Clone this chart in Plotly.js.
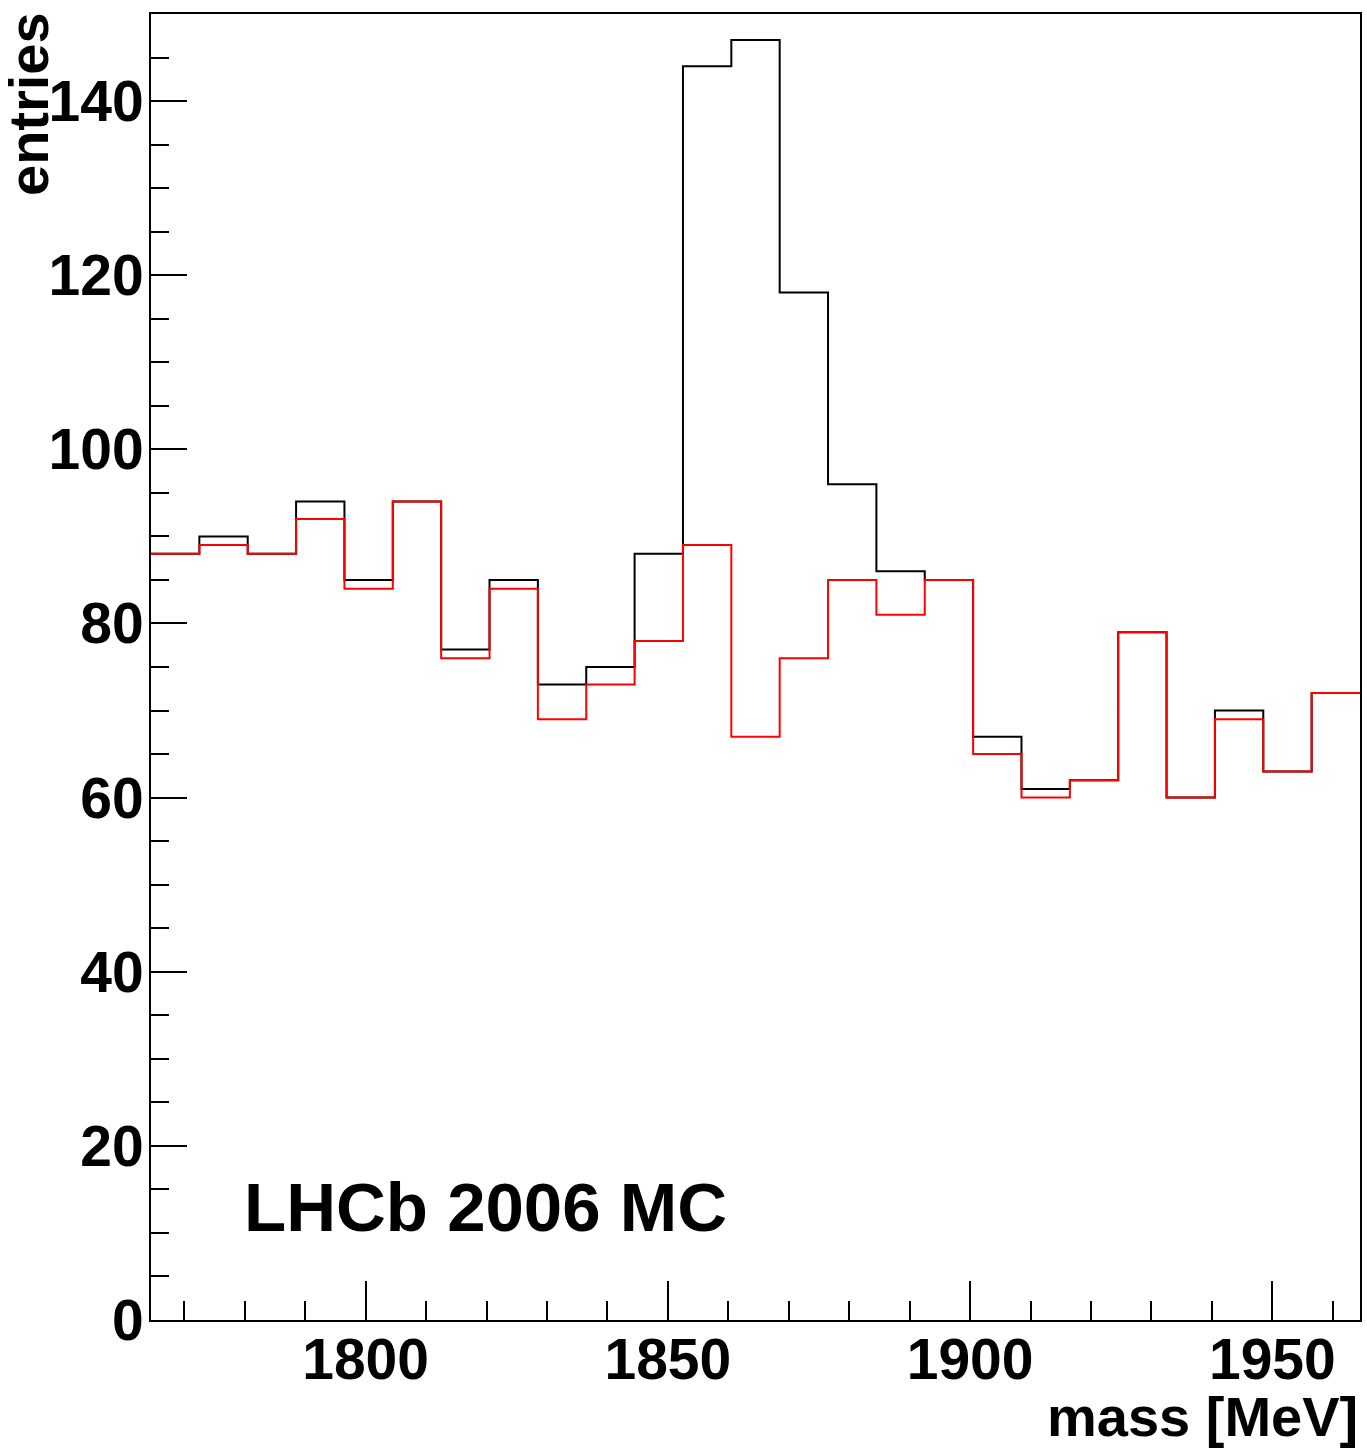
<!DOCTYPE html>
<html>
<head>
<meta charset="utf-8">
<script src="https://cdn.plot.ly/plotly-3.0.1.min.js"></script>
<style>
  html, body { margin: 0; padding: 0; background: #fff; }
  #chart { width: 1367px; height: 1454px; }
</style>
</head>
<body>
<div id="chart"></div>
<script>
// Histogram binning (D0 mass window)
const binLow = 1764.5;
const binWidth = 8;

// Bin contents: all candidates (black) and after selection (red)
const allEntries = [88, 90, 88, 94, 85, 94, 77, 85, 73, 75, 88, 144, 147, 118, 96, 86, 85, 67, 61, 62, 79, 60, 70, 63, 72];
const selEntries = [88, 89, 88, 92, 84, 94, 76, 84, 69, 73, 78, 89, 67, 76, 85, 81, 85, 65, 60, 62, 79, 60, 69, 63, 72];

// Axis ticks
const xTickVals = [1800, 1850, 1900, 1950];
const xTickText = ["1800", "1850", "1900", "1950"];
const yTickVals = [0, 20, 40, 60, 80, 100, 120, 140];
const yTickText = ["0", "20", "40", "60", "80", "100", "120", "140"];

const xTitle = "mass [MeV]";
const yTitle = "entries";
const label = "LHCb 2006 MC";

function stepTrace(values, color) {
  const x = [], y = [];
  for (let i = 0; i < values.length; i++) {
    x.push(binLow + i * binWidth);
    y.push(values[i]);
  }
  x.push(binLow + values.length * binWidth);
  y.push(values[values.length - 1]);
  return {
    x: x, y: y, type: 'scatter', mode: 'lines',
    line: { shape: 'hv', color: color, width: 2 },
    hoverinfo: 'skip', showlegend: false
  };
}

const FONT = '"Liberation Sans", Arial, Helvetica, sans-serif';

const data = [stepTrace(allEntries, '#000000'), stepTrace(selEntries, '#ff0000')];

const layout = {
  width: 1367, height: 1454,
  margin: { l: 151, r: 7, t: 14, b: 134, pad: 0 },
  paper_bgcolor: '#ffffff', plot_bgcolor: '#ffffff',
  showlegend: false,
  xaxis: {
    range: [binLow, binLow + 25 * binWidth],
    tickmode: 'array', tickvals: xTickVals, ticktext: xTickText,
    ticks: 'inside', ticklen: 39, tickwidth: 2, tickcolor: '#000',
    minor: { dtick: 10, tick0: 1770, ticks: 'inside', ticklen: 19, tickwidth: 2, tickcolor: '#000', showgrid: false },
    showline: true, linewidth: 2, linecolor: '#000', mirror: true,
    showgrid: false, zeroline: false,
    tickfont: { family: FONT, size: 57, color: '#000', weight: 'bold' },
    ticklabelstandoff: -11,
    fixedrange: true
  },
  yaxis: {
    range: [0, 150],
    tickmode: 'array', tickvals: yTickVals, ticktext: yTickText,
    ticks: 'inside', ticklen: 36, tickwidth: 2, tickcolor: '#000',
    minor: { dtick: 5, tick0: 0, ticks: 'inside', ticklen: 18, tickwidth: 2, tickcolor: '#000', showgrid: false },
    showline: true, linewidth: 2, linecolor: '#000', mirror: true,
    showgrid: false, zeroline: false,
    tickfont: { family: FONT, size: 57, color: '#000', weight: 'bold' },
    ticklabelstandoff: -6,
    fixedrange: true
  },
  annotations: [
    {
      text: xTitle, xref: 'paper', yref: 'paper', x: 1.0, y: -0.0482,
      xanchor: 'right', yanchor: 'top', showarrow: false,
      font: { family: FONT, size: 56, color: '#000', weight: 'bold' }
    },
    {
      text: yTitle, xref: 'paper', yref: 'paper', x: -0.1018, y: 1.003,
      xanchor: 'center', yanchor: 'top', textangle: -90, showarrow: false,
      font: { family: FONT, size: 56, color: '#000', weight: 'bold' }
    },
    {
      text: label, xref: 'paper', yref: 'paper', x: 0.075, y: 0.0862,
      xanchor: 'left', yanchor: 'middle', showarrow: false,
      font: { family: FONT, size: 69, color: '#000', weight: 'bold' }
    }
  ]
};

Plotly.newPlot('chart', data, layout, { displayModeBar: false, staticPlot: true });
</script>
</body>
</html>
